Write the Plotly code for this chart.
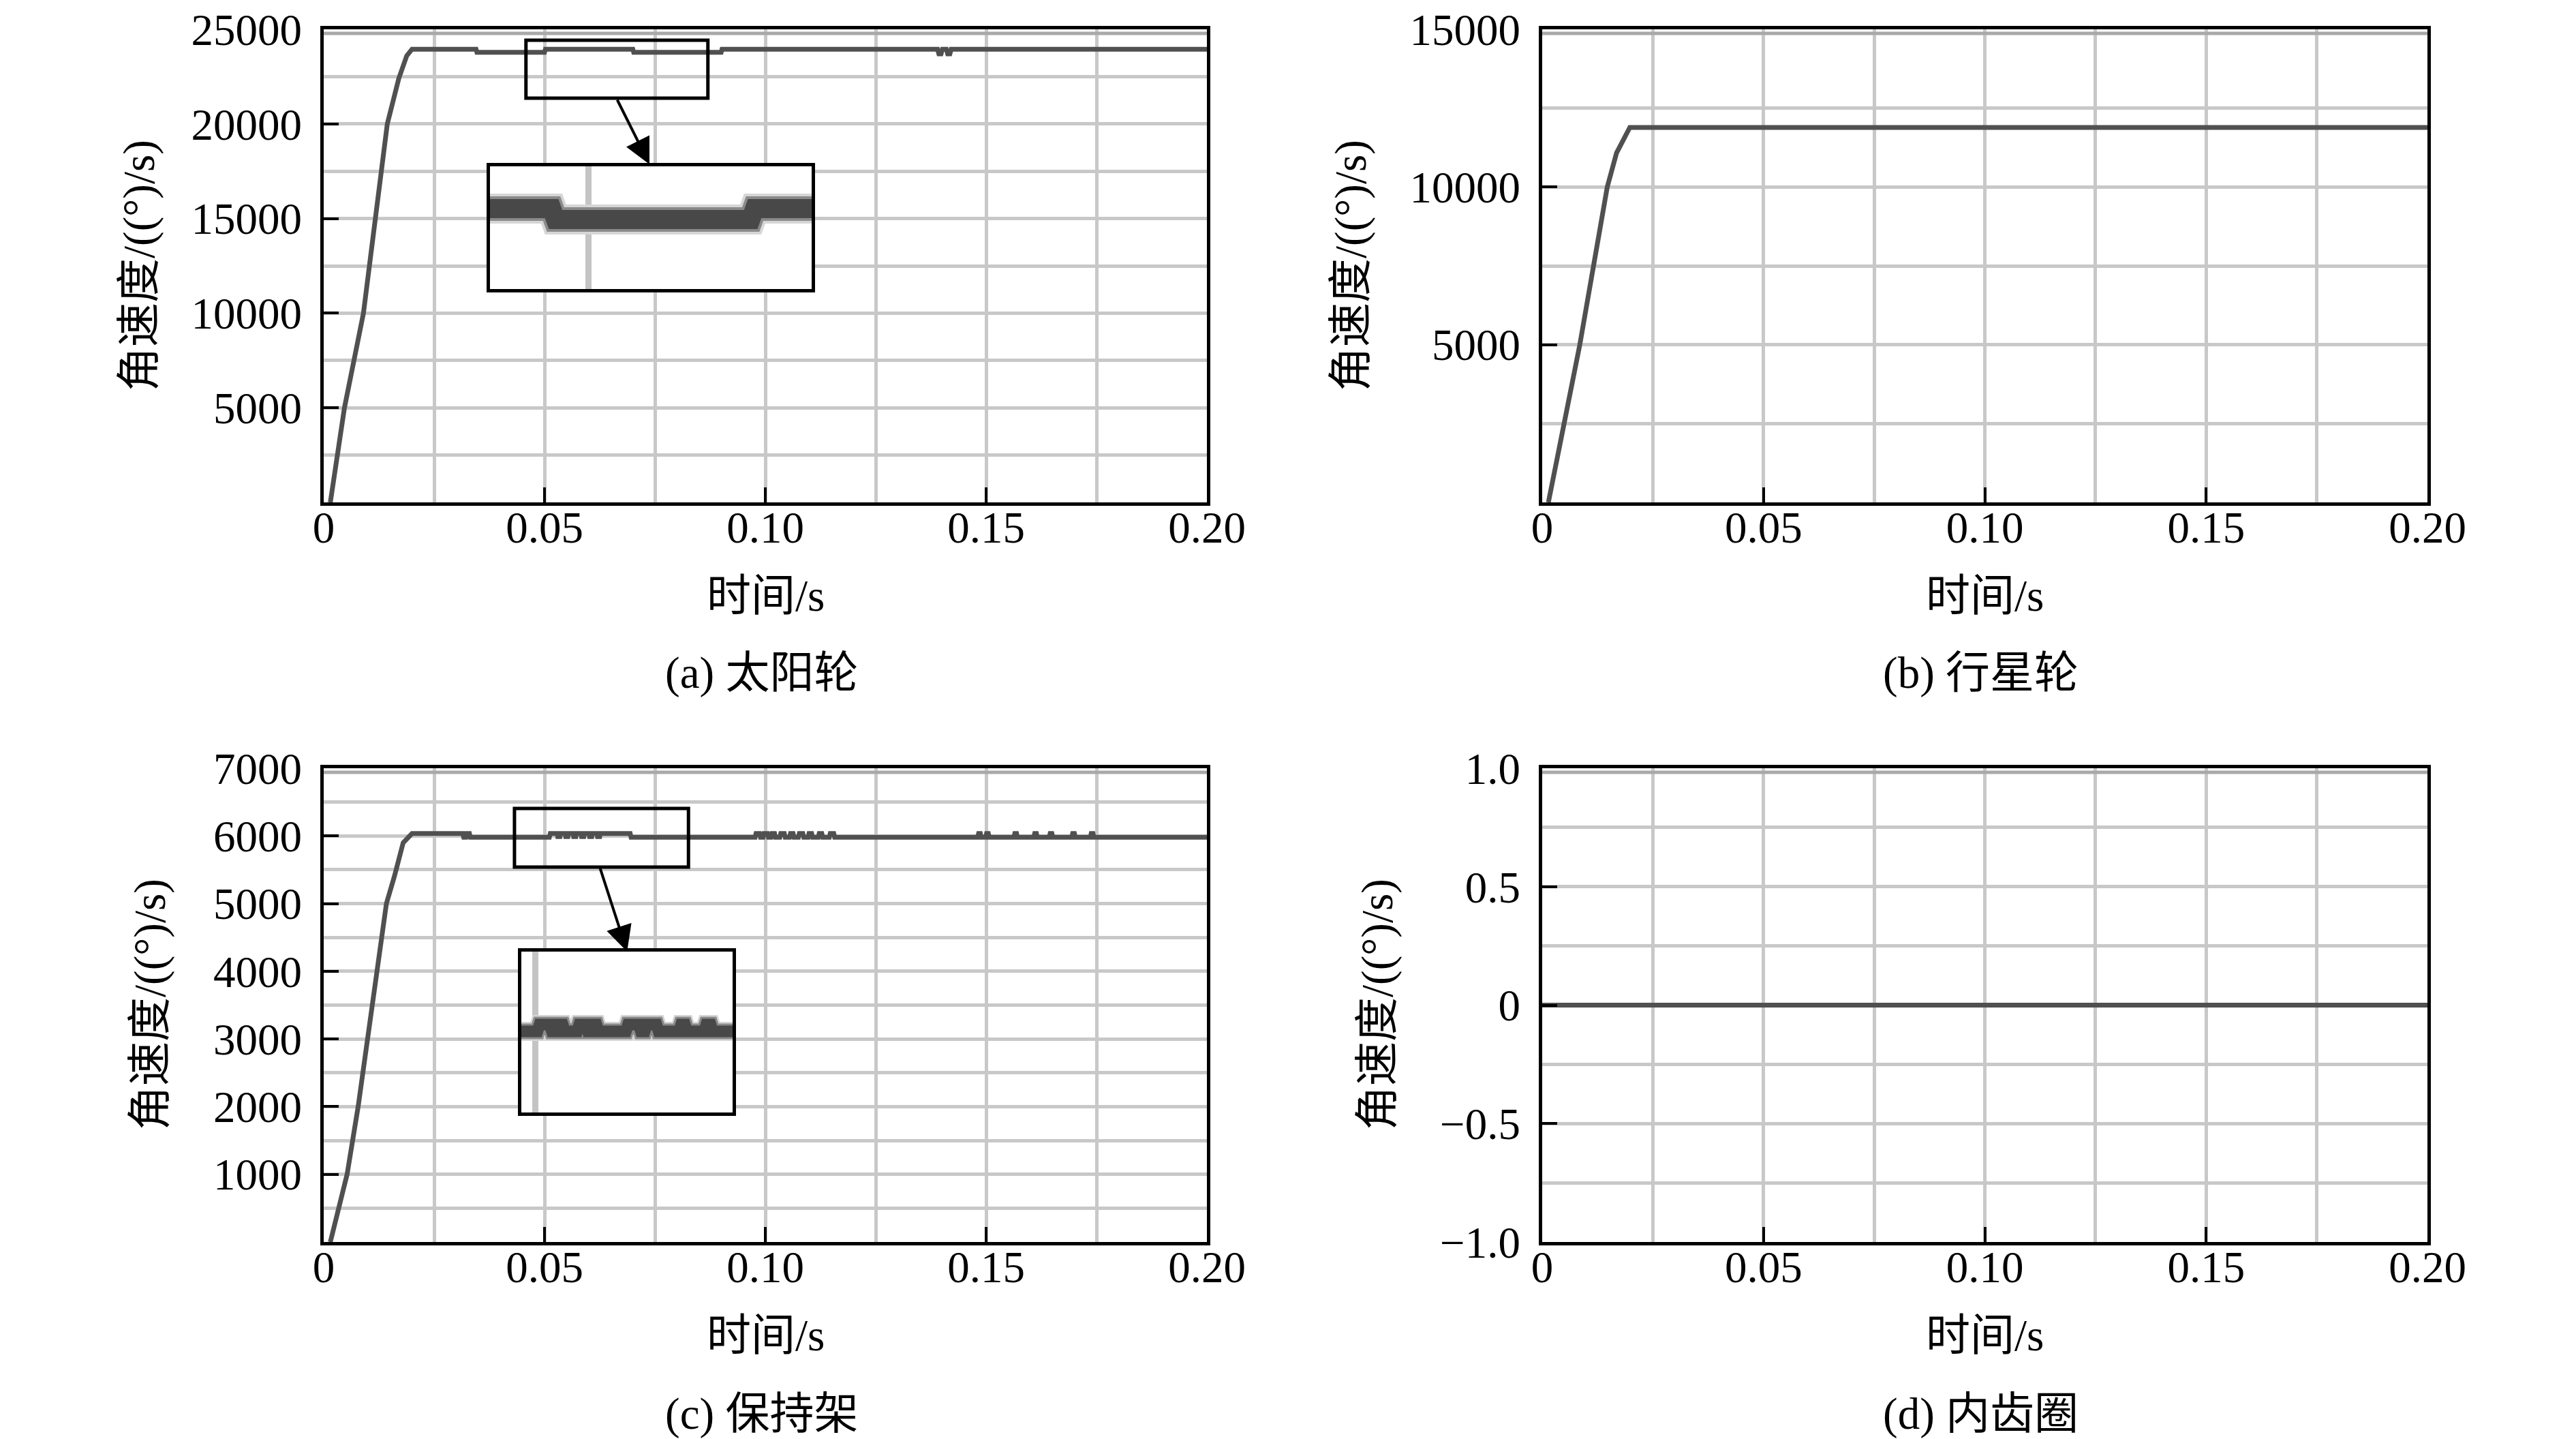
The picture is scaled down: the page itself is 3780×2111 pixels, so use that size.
import plotly.graph_objects as go

# ---------------- data ----------------
# (a) sun gear
t_sun = [0.0015, 0.0047, 0.0090, 0.0118, 0.0144, 0.0170, 0.0188, 0.0200,
         0.0345, 0.0347, 0.0500, 0.0502, 0.0700, 0.0702, 0.0900, 0.0902,
         0.1390, 0.1393, 0.1398, 0.1401, 0.1410, 0.1413, 0.1418, 0.1421, 0.2000]
w_sun = [0, 5000, 10000, 15000, 20000, 22400, 23600, 23950,
         23950, 23780, 23780, 23950, 23950, 23780, 23780, 23950,
         23950, 23700, 23700, 23950, 23950, 23700, 23700, 23950, 23950]

# (b) planet gear
t_planet = [0.0014, 0.0085, 0.0147, 0.0168, 0.0198, 0.2000]
w_planet = [0, 5000, 10000, 11080, 11890, 11890]

# (c) carrier
t_carrier = [0.0015, 0.0053, 0.0078, 0.0100, 0.0122, 0.0142, 0.0160, 0.0180, 0.0200,
             0.0315, 0.0317, 0.0322, 0.0324, 0.0330, 0.0332,
             0.0511, 0.0513,
             0.0529, 0.0530, 0.0535, 0.0536, 0.0547, 0.0548, 0.0553, 0.0554,
             0.0565, 0.0566, 0.0571, 0.0572, 0.0583, 0.0584, 0.0589, 0.0590,
             0.0601, 0.0602, 0.0607, 0.0608, 0.0619, 0.0620, 0.0625, 0.0626,
             0.0694, 0.0696,
             0.0977, 0.0979, 0.0987, 0.0989, 0.0995, 0.0997, 0.1005, 0.1007,
             0.1013, 0.1015, 0.1021, 0.1023, 0.1033, 0.1035, 0.1043, 0.1045,
             0.1055, 0.1057, 0.1063, 0.1065, 0.1075, 0.1077, 0.1085, 0.1087,
             0.1097, 0.1099, 0.1105, 0.1107, 0.1120, 0.1122, 0.1128, 0.1130,
             0.1145, 0.1147, 0.1155, 0.1157,
             0.1481, 0.1483, 0.1487, 0.1489, 0.1499, 0.1501, 0.1505, 0.1507,
             0.1563, 0.1565, 0.1569, 0.1571, 0.1608, 0.1610, 0.1614, 0.1616,
             0.1643, 0.1645, 0.1649, 0.1651, 0.1694, 0.1696, 0.1700, 0.1702,
             0.1736, 0.1738, 0.1742, 0.1744,
             0.2000]
w_carrier = [0, 1000, 2000, 3000, 4000, 5000, 5400, 5900, 6035,
             6035, 5980, 5980, 6035, 6035, 5980,
             5980, 6035,
             6035, 5990, 5990, 6035, 6035, 5990, 5990, 6035,
             6035, 5990, 5990, 6035, 6035, 5990, 5990, 6035,
             6035, 5990, 5990, 6035, 6035, 5990, 5990, 6035,
             6035, 5980,
             5980, 6035, 6035, 5980, 5980, 6035, 6035, 5980,
             5980, 6035, 6035, 5980, 5980, 6035, 6035, 5980,
             5980, 6035, 6035, 5980, 5980, 6035, 6035, 5980,
             5980, 6035, 6035, 5980, 5980, 6035, 6035, 5980,
             5980, 6035, 6035, 5980,
             5980, 6035, 6035, 5980, 5980, 6035, 6035, 5980,
             5980, 6035, 6035, 5980, 5980, 6035, 6035, 5980,
             5980, 6035, 6035, 5980, 5980, 6035, 6035, 5980,
             5980, 6035, 6035, 5980,
             5980]

# (d) ring gear
t_ring = [0, 0.2]
w_ring = [0, 0]

# zoomed views shown in the insets
t_sun_zoom = [0.0458, 0.0537, 0.0542, 0.0792, 0.0797, 0.0870]
w_sun_zoom = [23950, 23950, 23780, 23780, 23950, 23950]

t_carrier_zoom = [0.0432,
                  0.0462, 0.0466, 0.0485, 0.0489, 0.0497, 0.0501, 0.0509, 0.0513,
                  0.0536, 0.0540, 0.0552, 0.0556, 0.0560, 0.0564, 0.0572, 0.0576,
                  0.0627, 0.0631, 0.0651, 0.0655, 0.0662, 0.0666, 0.0684, 0.0688,
                  0.0726, 0.0730, 0.0737, 0.0741, 0.0773, 0.0777, 0.0785, 0.0789,
                  0.0826]
w_carrier_zoom = [5980,
                  5980, 6035, 6035, 5980, 5980, 6035, 6035, 5980,
                  5980, 6035, 6035, 5980, 5980, 6035, 6035, 5980,
                  5980, 6035, 6035, 5980, 5980, 6035, 6035, 5980,
                  5980, 6035, 6035, 5980, 5980, 6035, 6035, 5980,
                  5980]

x_tickvals = [0, 0.05, 0.10, 0.15, 0.20]
x_ticktext = ["0", "0.05", "0.10", "0.15", "0.20"]
x_grid_minor = [0.025, 0.075, 0.125, 0.175]

y_ticks_sun = [5000, 10000, 15000, 20000, 25000]
y_minor_sun = [2500, 7500, 12500, 17500, 22500]
y_ticks_planet = [5000, 10000, 15000]
y_minor_planet = [2500, 7500, 12500]
y_ticks_carrier = [1000, 2000, 3000, 4000, 5000, 6000, 7000]
y_minor_carrier = [500, 1500, 2500, 3500, 4500, 5500, 6500]
y_ticks_ring = [-1.0, -0.5, 0, 0.5, 1.0]
y_text_ring = ["\u22121.0", "\u22120.5", "0", "0.5", "1.0"]
y_minor_ring = [-0.75, -0.25, 0.25, 0.75]

captions = ["(a) 太阳轮", "(b) 行星轮", "(c) 保持架", "(d) 内齿圈"]
x_title = "时间/s"
y_title = "角速度/((°)/s)"

# ---------------- layout helpers ----------------
W, H = 3780, 2111
FONT = "Liberation Serif, Noto Sans CJK SC"
GRID = "#c8c8c8"
LINE = "#505050"


def fx(p):
    return p / W


def fy(p):
    return 1 - p / H


cols = [(467, 1763), (2255, 3554)]
rows = [(35, 729), (1119, 1814)]


def main_x(col, anchor):
    return dict(domain=[fx(col[0]), fx(col[1])], anchor=anchor, range=[0, 0.2],
                automargin=False, ticklabeloverflow="allow",
                tickmode="array", tickvals=x_tickvals, ticktext=x_ticktext,
                ticks="inside", ticklen=22, tickwidth=4, tickcolor="black",
                ticklabelstandoff=-24,
                showline=True, linewidth=5, linecolor="black", mirror=True,
                showgrid=True, gridcolor=GRID, gridwidth=5, zeroline=False,
                minor=dict(tickvals=x_grid_minor, showgrid=True, gridcolor=GRID,
                           gridwidth=5, ticks=""),
                tickfont=dict(family=FONT, size=65, color="black"))


def main_y(row, anchor, rng, vals, minor, text):
    return dict(domain=[fy(row[1]), fy(row[0])], anchor=anchor, range=rng,
                automargin=False, ticklabeloverflow="allow",
                tickmode="array", tickvals=vals, ticktext=text,
                ticks="inside", ticklen=22, tickwidth=4, tickcolor="black",
                ticklabelstandoff=14,
                showline=True, linewidth=5, linecolor="black", mirror=True,
                showgrid=True, gridcolor=GRID, gridwidth=5, zeroline=False,
                minor=dict(tickvals=minor, showgrid=True, gridcolor=GRID,
                           gridwidth=5, ticks=""),
                tickfont=dict(family=FONT, size=65, color="black"))


def inset_axes(xd, yd, xr, yr, grid_at, anchor_x, anchor_y):
    xa = dict(domain=[fx(xd[0]), fx(xd[1])], anchor=anchor_y, range=xr,
              automargin=False,
              tickmode="array", tickvals=[grid_at], showticklabels=False, ticks="",
              showgrid=True, gridcolor="#c4c4c4", gridwidth=9, zeroline=False,
              showline=True, linewidth=5, linecolor="black", mirror=True)
    ya = dict(domain=[fy(yd[1]), fy(yd[0])], anchor=anchor_x, range=yr,
              automargin=False,
              showticklabels=False, ticks="", showgrid=False, zeroline=False,
              showline=True, linewidth=5, linecolor="black", mirror=True)
    return xa, ya


fig = go.Figure()

series = [(t_sun, w_sun, "x", "y"), (t_planet, w_planet, "x2", "y2"),
          (t_carrier, w_carrier, "x3", "y3"), (t_ring, w_ring, "x4", "y4")]
for t, w, xa, ya in series:
    fig.add_trace(go.Scatter(x=t, y=w, mode="lines", xaxis=xa, yaxis=ya,
                             line=dict(color=LINE, width=7), showlegend=False,
                             hoverinfo="skip"))

# insets: thick blurred band drawn as three stacked lines
for t, w, xa, ya, widths in [(t_sun_zoom, w_sun_zoom, "x5", "y5", (44, 36, 28)),
                             (t_carrier_zoom, w_carrier_zoom, "x6", "y6", (28, 23, 17))]:
    for width, color in zip(widths, ["#d6d6d6", "#8a8a8a", "#484848"]):
        fig.add_trace(go.Scatter(x=t, y=w, mode="lines", xaxis=xa, yaxis=ya,
                                 line=dict(color=color, width=width),
                                 showlegend=False, hoverinfo="skip"))

x5, y5 = inset_axes((711, 1183), (236, 416), [0.0458, 0.0870], [22700, 24607],
                    0.0584, "x5", "y5")
x6, y6 = inset_axes((757, 1067), (1388, 1624), [0.0432, 0.0826], [5325, 6624],
                    0.0458, "x6", "y6")

fig.update_layout(
    width=W, height=H, margin=dict(l=0, r=0, t=0, b=0, autoexpand=False),
    paper_bgcolor="white", plot_bgcolor="white",
    font=dict(family=FONT, size=65, color="black"),
    xaxis=main_x(cols[0], "y"),
    yaxis=main_y(rows[0], "x", [0, 25000], y_ticks_sun, y_minor_sun,
                 [str(v) for v in y_ticks_sun]),
    xaxis2=main_x(cols[1], "y2"),
    yaxis2=main_y(rows[0], "x2", [0, 15000], y_ticks_planet, y_minor_planet,
                  [str(v) for v in y_ticks_planet]),
    xaxis3=main_x(cols[0], "y3"),
    yaxis3=main_y(rows[1], "x3", [0, 7000], y_ticks_carrier, y_minor_carrier,
                  [str(v) for v in y_ticks_carrier]),
    xaxis4=main_x(cols[1], "y4"),
    yaxis4=main_y(rows[1], "x4", [-1, 1], y_ticks_ring, y_minor_ring, y_text_ring),
    xaxis5=x5, yaxis5=y5, xaxis6=x6, yaxis6=y6,
)

# white backing for the insets, small zoom boxes, doubled top frame
shapes = [
    dict(type="rect", xref="x", yref="y", x0=0.03765, x1=0.1105, y0=11275, y1=17759,
         fillcolor="white", line=dict(width=0), layer="between"),
    dict(type="rect", xref="x3", yref="y3", x0=0.04475, x1=0.0926, y0=1914, y1=4291,
         fillcolor="white", line=dict(width=0), layer="between"),
    dict(type="rect", xref="x", yref="y", x0=0.0458, x1=0.0870, y0=21362, y1=24424,
         line=dict(color="black", width=5), layer="above"),
    dict(type="rect", xref="x3", yref="y3", x0=0.0432, x1=0.0826, y0=5540, y1=6406,
         line=dict(color="black", width=5), layer="above"),
]
top_band = [("x", "y", 24784), ("x2", "y2", 14870),
            ("x3", "y3", 6940), ("x4", "y4", 0.983)]
for sx, sy, under in top_band:
    shapes.append(dict(type="line", xref=sx, yref=sy, x0=0, x1=0.2, y0=under, y1=under,
                       line=dict(color="#a9a9a9", width=5), layer="between"))
fig.update_layout(shapes=shapes)

# arrows from the small boxes to the insets
fig.add_annotation(xref="x", yref="y", axref="x", ayref="y", x=0.07377, y=17867,
                   ax=0.06636, ay=21326, text="", showarrow=True, arrowhead=2,
                   arrowsize=1.9, arrowwidth=4, arrowcolor="black", standoff=0)
fig.add_annotation(xref="x3", yref="y3", axref="x3", ayref="y3", x=0.0687, y=4291,
                   ax=0.0625, ay=5540, text="", showarrow=True, arrowhead=2,
                   arrowsize=1.9, arrowwidth=4, arrowcolor="black", standoff=0)

# axis titles and captions
ytitle_x = [196, 1974, 212, 2013]
centers = [(1115, 382), (2904, 382), (1115, 1466), (2904, 1466)]
xtitle_y = [866, 866, 1951, 1951]
caption_y = [979, 979, 2066, 2066]
for i in range(4):
    cx, cy = centers[i]
    fig.add_annotation(xref="paper", yref="paper", x=fx(ytitle_x[i]), y=fy(cy),
                       xanchor="center", yanchor="middle",
                       text=y_title, textangle=-90, showarrow=False,
                       font=dict(family=FONT, size=65, color="black"))
    fig.add_annotation(xref="paper", yref="paper", x=fx(cx), y=fy(xtitle_y[i]),
                       xanchor="center", yanchor="middle",
                       text=x_title, showarrow=False,
                       font=dict(family=FONT, size=65, color="black"))
    fig.add_annotation(xref="paper", yref="paper", x=fx(cx - 6), y=fy(caption_y[i]),
                       xanchor="center", yanchor="middle",
                       text=captions[i], showarrow=False,
                       font=dict(family=FONT, size=65, color="black"))

fig.write_html("out.html")
